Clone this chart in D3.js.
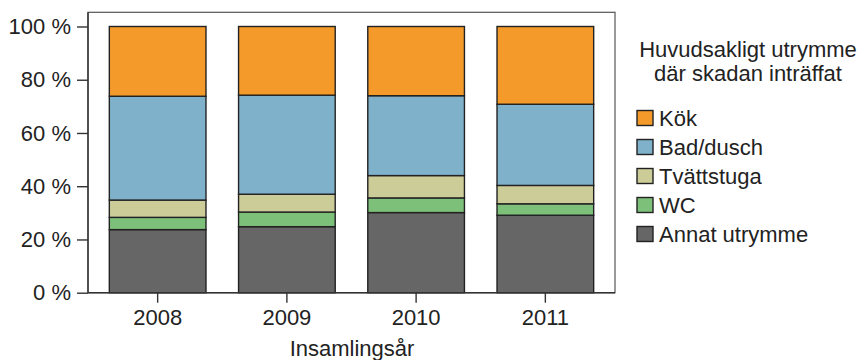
<!DOCTYPE html>
<html>
<head>
<meta charset="utf-8">
<script src="https://cdn.jsdelivr.net/npm/d3@7"></script>
<style>
  html, body { margin: 0; padding: 0; background: #fff; }
  svg { display: block; font-family: "Liberation Sans", Arial, sans-serif; }
</style>
</head>
<body>
<svg id="chart" width="862" height="360"></svg>
<script>
// Share of damages by main room, per collection year (percent, stacks sum to 100)
const years = ["2008", "2009", "2010", "2011"];
const seriesNames = ["Annat utrymme", "WC", "Tvättstuga", "Bad/dusch", "Kök"];
const annat     = [23.7, 24.8, 30.1, 29.1];
const wc        = [4.6, 5.5, 5.5, 4.3];
const tvattstuga= [6.5, 6.7, 8.4, 6.9];
const badDusch  = [39.0, 37.2, 30.0, 30.5];
const kok       = [26.2, 25.8, 26.0, 29.2];
const yTicks = [0, 20, 40, 60, 80, 100];
const colors = ["#666666", "#7dc07a", "#cccc99", "#7fb1cb", "#f39a2a"];
const legendTitle = ["Huvudsakligt utrymme", "där skadan inträffat"];
const xTitle = "Insamlingsår";

const valuesBySeries = [annat, wc, tvattstuga, badDusch, kok];
const rows = years.map((y, i) => {
  const r = { year: y };
  seriesNames.forEach((s, k) => { r[s] = valuesBySeries[k][i]; });
  return r;
});

const svg = d3.select("#chart");
const frame = { left: 88, right: 615, top: 12.3, bottom: 292.7 };

const x = d3.scaleBand()
  .domain(years)
  .range([frame.left, frame.right])
  .paddingInner(0.252)
  .paddingOuter(0.165);

const y = d3.scaleLinear().domain([0, 100]).range([292.7, 26.5]);
const color = d3.scaleOrdinal().domain(seriesNames).range(colors);

// plot frame
svg.append("rect")
  .attr("x", frame.left).attr("y", frame.top)
  .attr("width", frame.right - frame.left)
  .attr("height", frame.bottom - frame.top)
  .attr("fill", "none").attr("stroke", "#555").attr("stroke-width", 1.2);

// stacked bars
const stacked = d3.stack().keys(seriesNames)(rows);
svg.append("g").selectAll("g")
  .data(stacked)
  .join("g")
  .attr("fill", d => color(d.key))
  .selectAll("rect")
  .data(d => d)
  .join("rect")
  .attr("x", d => x(d.data.year))
  .attr("width", x.bandwidth())
  .attr("y", d => y(d[1]))
  .attr("height", d => y(d[0]) - y(d[1]))
  .attr("stroke", "#222")
  .attr("stroke-width", 1.4);

// y axis
const yAxis = svg.append("g")
  .attr("transform", `translate(${frame.left},0)`)
  .call(d3.axisLeft(y).tickValues(yTicks).tickSize(11).tickPadding(6).tickFormat(d => d + " %"));
yAxis.select(".domain").attr("stroke", "#333").attr("stroke-width", 1.4)
  .attr("d", `M0,${frame.top}V${frame.bottom}`);
yAxis.selectAll(".tick line").attr("stroke", "#333").attr("stroke-width", 1.4);
yAxis.selectAll(".tick text").attr("font-size", 22).attr("fill", "#222")
  .attr("font-family", "Liberation Sans, Arial, sans-serif");

// x axis
const xAxis = svg.append("g")
  .attr("transform", `translate(0,${frame.bottom})`)
  .call(d3.axisBottom(x).tickSize(10).tickPadding(7));
xAxis.select(".domain").attr("stroke", "#333").attr("stroke-width", 1.4)
  .attr("d", `M${frame.left},0H${frame.right}`);
xAxis.selectAll(".tick line").attr("stroke", "#333").attr("stroke-width", 1.4);
xAxis.selectAll(".tick text").attr("font-size", 22).attr("fill", "#222")
  .attr("font-family", "Liberation Sans, Arial, sans-serif");

// x axis title
svg.append("text")
  .attr("x", 352).attr("y", 356)
  .attr("text-anchor", "middle")
  .attr("font-size", 22).attr("fill", "#222")
  .text(xTitle);

// legend
const legend = svg.append("g");
legend.selectAll("text.title")
  .data(legendTitle)
  .join("text")
  .attr("class", "title")
  .attr("x", 748)
  .attr("y", (d, i) => 56.5 + i * 24.5)
  .attr("text-anchor", "middle")
  .attr("font-size", 22).attr("fill", "#222")
  .text(d => d);

const legendOrder = seriesNames.slice().reverse();
const item = legend.selectAll("g.item")
  .data(legendOrder)
  .join("g")
  .attr("class", "item")
  .attr("transform", (d, i) => `translate(637,${118 + i * 29})`);
item.append("rect")
  .attr("x", 0).attr("y", -7.5)
  .attr("width", 16).attr("height", 15)
  .attr("fill", d => color(d))
  .attr("stroke", "#222").attr("stroke-width", 1.4);
item.append("text")
  .attr("x", 22).attr("y", 7.5)
  .attr("font-size", 22).attr("fill", "#222")
  .text(d => d);
</script>
</body>
</html>
